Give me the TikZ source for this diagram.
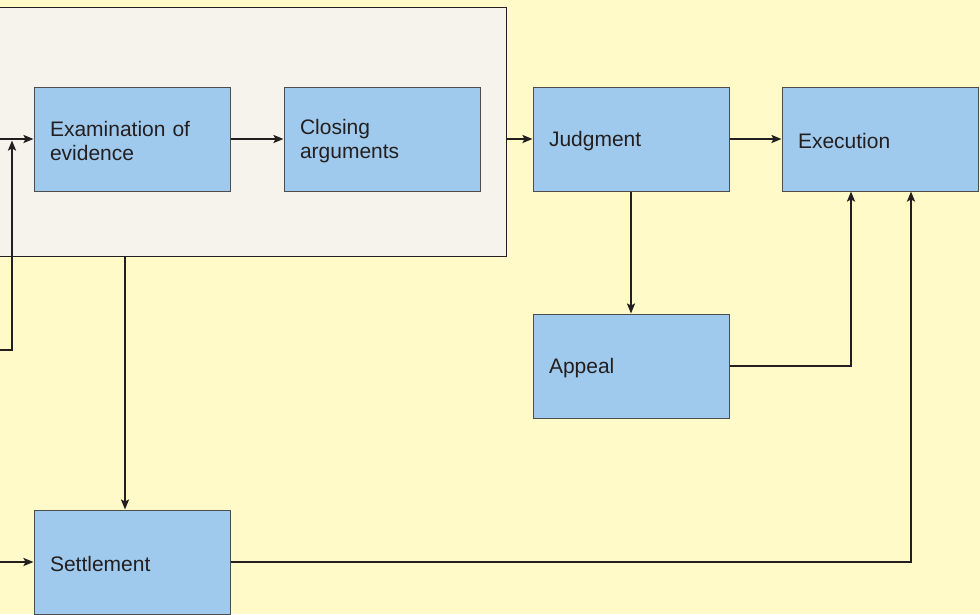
\documentclass[tikz,border=0pt]{standalone}
\usepackage{fontspec}
\setmainfont{Liberation Sans}
\usetikzlibrary{arrows.meta}
\definecolor{bgyellow}{RGB}{255,250,200}
\definecolor{panelgray}{RGB}{246,242,236}
\definecolor{boxblue}{RGB}{160,202,237}
\definecolor{ink}{RGB}{35,31,32}
\tikzset{
  stage/.style = {rectangle, draw=ink!80, fill=boxblue, line width=1pt,
    minimum height=104pt, text width=164pt, inner xsep=16pt,
    align=left, text=ink, font=\fontsize{21}{24}\selectfont,
    execute at begin node={\rule{0pt}{19pt}}},% one step
  trial/.style = {rectangle, draw=ink, fill=panelgray, line width=0.8pt,
    minimum width=526pt, minimum height=249pt},% the hearing
  flow/.style = {draw=ink, line width=2.5pt,
    -{Stealth[length=10pt,width=8pt,inset=2pt]}}% arrow
}

\begin{document}
\begin{tikzpicture}[x=1pt, y=-1pt]
  \fill[bgyellow] (0,0) rectangle (980,614);
  \useasboundingbox (0,0) rectangle (980,614);

  \node [trial] (hear) at (243,131.5) {};

  \node [stage] (exam) at (132,139) {Examination of\\evidence};
  \node [stage] (close) at (382,139) {Closing\\arguments};
  \node [stage] (judg) at (631,139) {Judgment};
  \node [stage] (exec) at (880,139) {Execution};
  \node [stage] (appeal) at (631,366) {Appeal};
  \node [stage] (settle) at (132,562) {Settlement};

  % loose ends at the left border
  \coordinate (in1) at (0,139);
  \coordinate (in2) at (0,350);
  \coordinate (in3) at (0,562);

  \draw [flow] (in1) -- (exam.west);
  \draw [flow] (in2) -- (12,350) -- (12,140.5);
  \draw [flow] (exam) -- (close);
  \draw [flow] (hear.east |- judg.west) -- (judg.west);
  \draw [flow] (judg) -- (exec);
  \draw [flow] (judg) -- (appeal);
  \draw [flow] (appeal.east) -| (exec.south -| 851,0);
  \draw [flow] (hear.south -| 125,0) -- (settle.north -| 125,0);
  \draw [flow] (in3) -- (settle.west);
  \draw [flow] (settle.east) -| (exec.south -| 911,0);
\end{tikzpicture}
\end{document}
